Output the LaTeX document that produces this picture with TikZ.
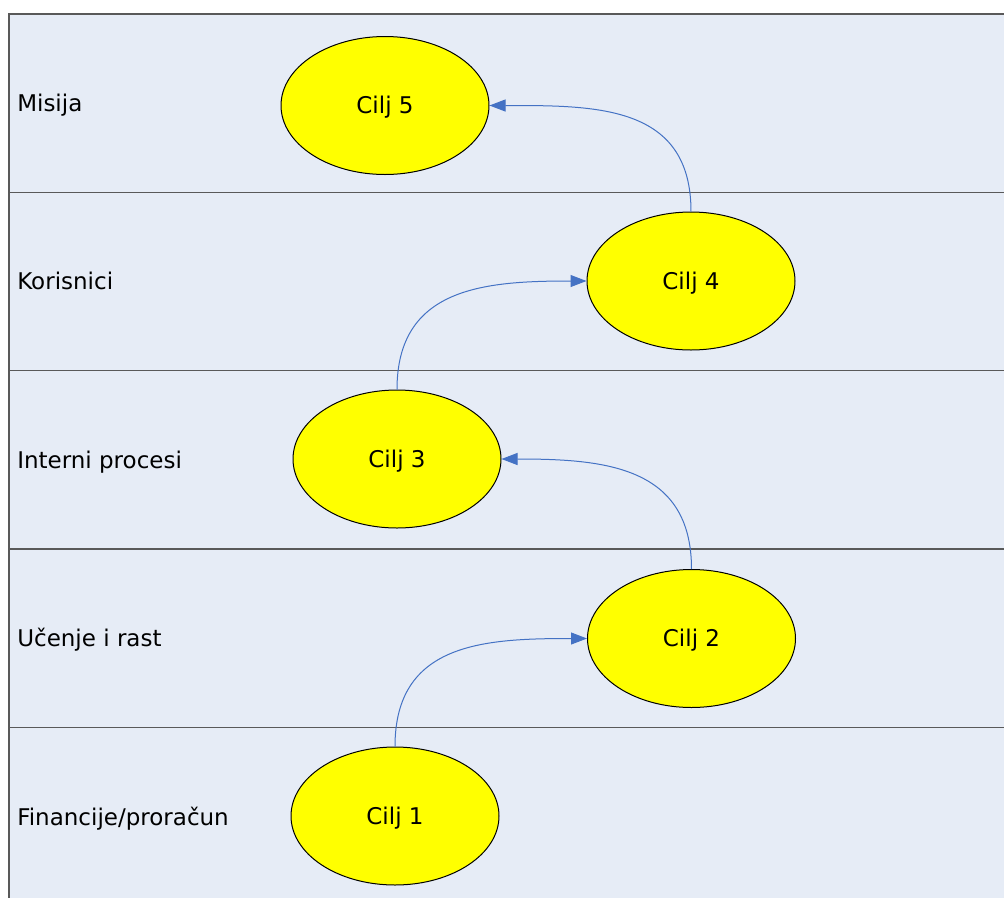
\documentclass[tikz,border=0pt]{standalone}
\usepackage{fontspec}
\setmainfont{DejaVu Sans}
\usetikzlibrary{arrows.meta,shapes.geometric}
\definecolor{bandfill}{RGB}{230,236,246}
\definecolor{bandline}{RGB}{89,89,89}
\definecolor{arrowblue}{RGB}{68,114,196}
\definecolor{goalfill}{RGB}{255,255,0}

\begin{document}
\begin{tikzpicture}[x=0.75pt,y=0.75pt,
    goal/.style={ellipse,draw=black,line width=0.75pt,fill=goalfill,minimum width=156pt,minimum height=103.5pt,
                 inner sep=0pt,text height=12.6pt,text depth=0pt,font=\fontsize{17.25pt}{20pt}\selectfont},
    lane/.style={anchor=base west,inner sep=0pt,font=\fontsize{17.25pt}{20pt}\selectfont},
    link/.style={draw=arrowblue,line width=0.75pt,looseness=1.2,-{Triangle[length=12pt,width=9pt]}}]
        \useasboundingbox (0,0) rectangle (1004,-897);
        \clip (0,0) rectangle (1004,-897);
        \fill[bandfill] (9,-14) rectangle (1010,-910);
        \foreach \y in {-192.5,-370.5,-549,-727.5}
            \draw[bandline,line width=1.3pt] (9,\y) -- (1010,\y);
        \draw[bandline,line width=1.3pt] (1010,-14) -- (9,-14) -- (9,-910);
        \node[lane] (misija)    at (17,-111.7) {Misija};
        \node[lane] (korisnici) at (17,-289.5) {Korisnici};
        \node[lane] (interni)   at (17,-468)   {Interni procesi};
        \node[lane] (ucenje)    at (17,-646.5) {Učenje i rast};
        \node[lane] (financije) at (17,-825)   {Financije/proračun};
        \node[goal] (cilj5) at (385,-105.5) {Cilj 5};
        \node[goal] (cilj4) at (691,-281)   {Cilj 4};
        \node[goal] (cilj3) at (397,-459)   {Cilj 3};
        \node[goal] (cilj2) at (691.5,-638.5) {Cilj 2};
        \node[goal] (cilj1) at (395,-816)   {Cilj 1};
        \draw[link] (cilj1.north) to[out=90,in=180] (cilj2.west);
        \draw[link] (cilj2.north) to[out=90,in=0]   (cilj3.east);
        \draw[link] (cilj3.north) to[out=90,in=180] (cilj4.west);
        \draw[link] (cilj4.north) to[out=90,in=0]   (cilj5.east);
\end{tikzpicture}
\end{document}
